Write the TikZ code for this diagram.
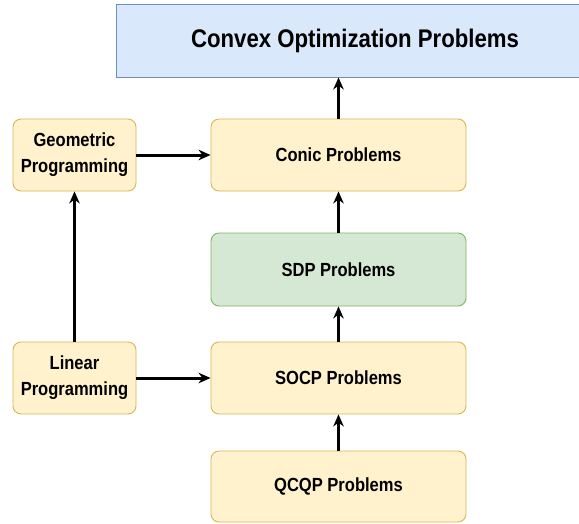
\documentclass[tikz,border=0pt]{standalone}
\usepackage{fontspec}
\setmainfont{Liberation Sans}[FakeStretch=0.87]
\usetikzlibrary{arrows.meta}
\definecolor{yfill}{HTML}{FFF2CC}
\definecolor{yline}{HTML}{D6B656}
\definecolor{gfill}{HTML}{D5E8D4}
\definecolor{gline}{HTML}{82B366}
\definecolor{bfill}{HTML}{DAE8FC}
\definecolor{bline}{HTML}{6C8EBF}
\tikzset{
  ybox/.style={draw=yline, fill=yfill, rounded corners=8pt, line width=0.9pt, inner sep=0pt, align=center, font=\fontsize{19}{26}\selectfont\bfseries},
  gbox/.style={draw=gline, fill=gfill, rounded corners=8pt, line width=0.9pt, inner sep=0pt, align=center, font=\fontsize{19}{26}\selectfont\bfseries},
  bbox/.style={draw=bline, fill=bfill, line width=0.9pt, inner sep=0pt, align=center, font=\fontsize{25.5}{30}\selectfont\bfseries},
  arr/.style={-{Stealth[length=12pt,width=10.5pt]}, line width=3pt, black}
}
\begin{document}
\begin{tikzpicture}[x=1pt,y=-1pt]
\useasboundingbox (0,0) rectangle (579,523);
\node[bbox, minimum width=478pt, minimum height=73pt] (top) at (355,40.5) {Convex Optimization Problems};
\node[ybox, minimum width=255pt, minimum height=72pt] (conic) at (338.5,155) {Conic Problems};
\node[gbox, minimum width=255pt, minimum height=73pt] (sdp) at (338.5,269.5) {SDP Problems};
\node[ybox, minimum width=255pt, minimum height=72pt] (socp) at (338.5,378) {SOCP Problems};
\node[ybox, minimum width=255pt, minimum height=71pt] (qcqp) at (338.5,486.5) {QCQP Problems};
\node[ybox, minimum width=123pt, minimum height=72pt] (geo) at (74.5,155) {Geometric\\Programming};
\node[ybox, minimum width=123pt, minimum height=72pt] (lin) at (74.5,378) {Linear\\Programming};
\draw[arr] (conic.north) -- (top.south -| conic.north);
\draw[arr] (sdp.north) -- (conic.south);
\draw[arr] (socp.north) -- (sdp.south);
\draw[arr] (qcqp.north) -- (socp.south);
\draw[arr] (geo.east) -- (conic.west);
\draw[arr] (lin.east) -- (socp.west);
\draw[arr] (lin.north) -- (geo.south);
\end{tikzpicture}
\end{document}
